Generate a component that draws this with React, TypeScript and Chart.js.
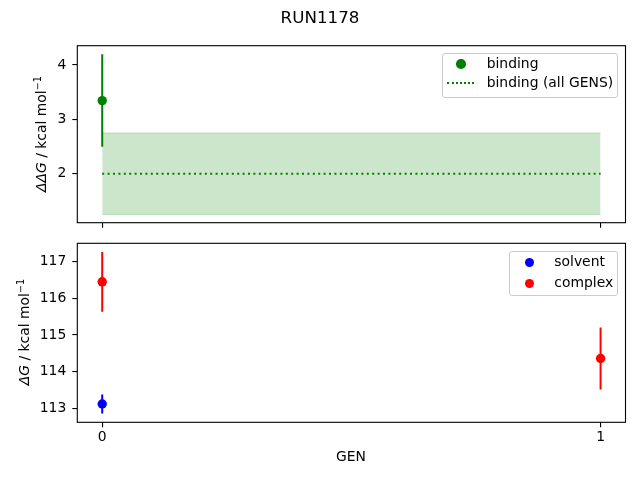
import { useEffect, useRef } from 'react';
import Chart from 'chart.js/auto';

// values
const GENS = [0, 1];
const GEN_TICKS = [0, 1];
const BINDING = [3.345, null];
const BINDING_ERR = [0.85, null];
const BINDING_ALL = 2.0;
const BINDING_ALL_ERR = 0.75;
const SOLVENT = [113.12, null];
const SOLVENT_ERR = [0.26, null];
const COMPLEX = [116.45, 114.36];
const COMPLEX_ERR = [0.815, 0.845];
const TOP_TICKS = [2, 3, 4];
const BOTTOM_TICKS = [113, 114, 115, 116, 117];

const C = {
  green: '#008000',
  greenFill: 'rgba(0,128,0,0.2)',
  blue: '#0000ff',
  red: '#ff0000'
};

const FONT = 'DejaVu Sans';

const frame = {
  id: 'frame',
  afterDraw(chart: any) {
    const { ctx, chartArea } = chart;
    ctx.save();
    ctx.strokeStyle = '#000';
    ctx.lineWidth = 1.1;
    ctx.strokeRect(chartArea.left, chartArea.top, chartArea.right - chartArea.left, chartArea.bottom - chartArea.top);
    ctx.restore();
  }
};

function points(vals: (number | null)[]) {
  return GENS.map((g, i) => ({ x: g, y: vals[i] })).filter((p) => p.y !== null) as { x: number; y: number }[];
}

function errorBars(vals: (number | null)[], errs: (number | null)[], color: string) {
  return GENS.map((g, i) => {
    const v = vals[i];
    const e = errs[i];
    if (v === null || e === null) return null;
    return {
      type: 'line' as const,
      data: [
        { x: g, y: v - e },
        { x: g, y: v + e }
      ],
      borderColor: color,
      borderWidth: 2,
      pointRadius: 0,
      order: 1
    };
  }).filter(Boolean) as any[];
}

function marker(vals: (number | null)[], color: string) {
  return {
    type: 'scatter' as const,
    data: points(vals),
    backgroundColor: color,
    borderColor: color,
    borderWidth: 0,
    pointRadius: 4.7,
    order: 0
  };
}

function axes(yMin: number, yMax: number, yTicks: number[], showX: boolean, xHeight: number) {
  const grid = { drawOnChartArea: false, drawTicks: true, tickLength: 5, color: '#000', lineWidth: 1.1 };
  return {
    x: {
      type: 'linear' as const,
      min: -0.05,
      max: 1.05,
      grid,
      border: { display: false },
      afterBuildTicks: (s: any) => {
        s.ticks = GEN_TICKS.map((v) => ({ value: v }));
      },
      afterFit: (s: any) => {
        s.height = xHeight;
      },
      ticks: {
        color: '#000',
        padding: 2,
        maxRotation: 0,
        font: { family: FONT, size: 13.9 },
        callback: (v: any) => (showX ? String(v) : '')
      }
    },
    y: {
      type: 'linear' as const,
      min: yMin,
      max: yMax,
      grid,
      border: { display: false },
      afterBuildTicks: (s: any) => {
        s.ticks = yTicks.map((v) => ({ value: v }));
      },
      afterFit: (s: any) => {
        s.width = 77.3;
      },
      ticks: {
        color: '#000',
        padding: 6,
        font: { family: FONT, size: 13.9 },
        callback: (v: any) => String(v)
      }
    }
  };
}

const baseOptions = {
  animation: false as const,
  responsive: false,
  events: [],
  plugins: { legend: { display: false }, tooltip: { enabled: false } }
};

export default function App() {
  const topRef = useRef<HTMLCanvasElement | null>(null);
  const botRef = useRef<HTMLCanvasElement | null>(null);

  useEffect(() => {
    let topChart: Chart | null = null;
    let botChart: Chart | null = null;

    if (topRef.current) {
      topChart = new Chart(topRef.current, {
        type: 'scatter',
        data: {
          datasets: [
            marker(BINDING, C.green),
            ...errorBars(BINDING, BINDING_ERR, C.green),
            {
              type: 'line',
              data: GENS.map((g) => ({ x: g, y: BINDING_ALL })),
              borderColor: C.green,
              borderWidth: 2,
              borderDash: [2, 3.4],
              pointRadius: 0,
              order: 2
            },
            {
              type: 'line',
              data: GENS.map((g) => ({ x: g, y: BINDING_ALL - BINDING_ALL_ERR })),
              borderColor: C.greenFill,
              borderWidth: 1,
              pointRadius: 0,
              order: 3
            },
            {
              type: 'line',
              data: GENS.map((g) => ({ x: g, y: BINDING_ALL + BINDING_ALL_ERR })),
              borderColor: C.greenFill,
              backgroundColor: C.greenFill,
              borderWidth: 1,
              pointRadius: 0,
              fill: '-1',
              order: 3
            }
          ] as any
        },
        options: {
          ...baseOptions,
          layout: { padding: { left: 0, right: 14.5, top: 45.7, bottom: 0 } },
          scales: axes(1.1, 4.354, TOP_TICKS, false, 17.3)
        } as any,
        plugins: [frame]
      });
    }

    if (botRef.current) {
      botChart = new Chart(botRef.current, {
        type: 'scatter',
        data: {
          datasets: [
            marker(SOLVENT, C.blue),
            marker(COMPLEX, C.red),
            ...errorBars(SOLVENT, SOLVENT_ERR, C.blue),
            ...errorBars(COMPLEX, COMPLEX_ERR, C.red)
          ] as any
        },
        options: {
          ...baseOptions,
          layout: { padding: { left: 0, right: 14.5, top: 23.3, bottom: 0 } },
          scales: axes(112.62, 117.5, BOTTOM_TICKS, true, 57.7)
        } as any,
        plugins: [frame]
      });
    }

    return () => {
      if (topChart) topChart.destroy();
      if (botChart) botChart.destroy();
    };
  }, []);

  const txt = { position: 'absolute' as const, fontFamily: FONT, fontSize: '13.9px', color: '#000', whiteSpace: 'nowrap' as const };
  const legendBox = {
    position: 'absolute' as const,
    border: '1px solid #cccccc',
    borderRadius: '3px',
    background: 'rgba(255,255,255,0.8)',
    boxSizing: 'border-box' as const
  };
  const dot = (color: string, cx: number, cy: number) => (
    <div
      style={{
        position: 'absolute',
        left: cx - 4.7,
        top: cy - 4.7,
        width: 9.4,
        height: 9.4,
        borderRadius: '50%',
        background: color
      }}
    />
  );
  const label = (text: string, x: number, cy: number) => (
    <div style={{ ...txt, left: x, top: cy, transform: 'translateY(-50%)', lineHeight: 1 }}>{text}</div>
  );

  return (
    <div style={{ position: 'absolute', left: 0, top: 0, width: 640, height: 480, background: '#fff', overflow: 'hidden' }}>
      <canvas ref={topRef} width={640} height={240} style={{ position: 'absolute', left: 0, top: 0, width: 640, height: 240 }} />
      <canvas ref={botRef} width={640} height={260} style={{ position: 'absolute', left: 0, top: 220, width: 640, height: 260 }} />

      <div style={{ ...txt, fontSize: '16.7px', left: 320, top: 17, transform: 'translate(-50%,-50%)', lineHeight: 1 }}>RUN1178</div>
      <div style={{ ...txt, left: 351, top: 457, transform: 'translate(-50%,-50%)', lineHeight: 1 }}>GEN</div>

      <div style={{ ...txt, left: 42, top: 134, transform: 'translate(-50%,-50%) rotate(-90deg)', lineHeight: 1 }}>
        <i>ΔΔG</i> / kcal mol<sup style={{ fontSize: '70%', verticalAlign: '0.5em', lineHeight: 0 }}>−1</sup>
      </div>
      <div style={{ ...txt, left: 25, top: 332, transform: 'translate(-50%,-50%) rotate(-90deg)', lineHeight: 1 }}>
        <i>ΔG</i> / kcal mol<sup style={{ fontSize: '70%', verticalAlign: '0.5em', lineHeight: 0 }}>−1</sup>
      </div>

      <div style={{ ...legendBox, left: 442, top: 52.7, width: 176, height: 45.6 }} />
      {dot(C.green, 461, 64)}
      <div style={{ position: 'absolute', left: 446.7, top: 82.3, width: 27.6, borderTop: `2px dotted ${C.green}` }} />
      {label('binding', 486.7, 64)}
      {label('binding (all GENS)', 486.7, 83.3)}

      <div style={{ ...legendBox, left: 509.3, top: 250.7, width: 108.7, height: 45 }} />
      {dot(C.blue, 529.3, 262.3)}
      {dot(C.red, 529.3, 283.3)}
      {label('solvent', 554.3, 262.3)}
      {label('complex', 554.3, 283.3)}
    </div>
  );
}
